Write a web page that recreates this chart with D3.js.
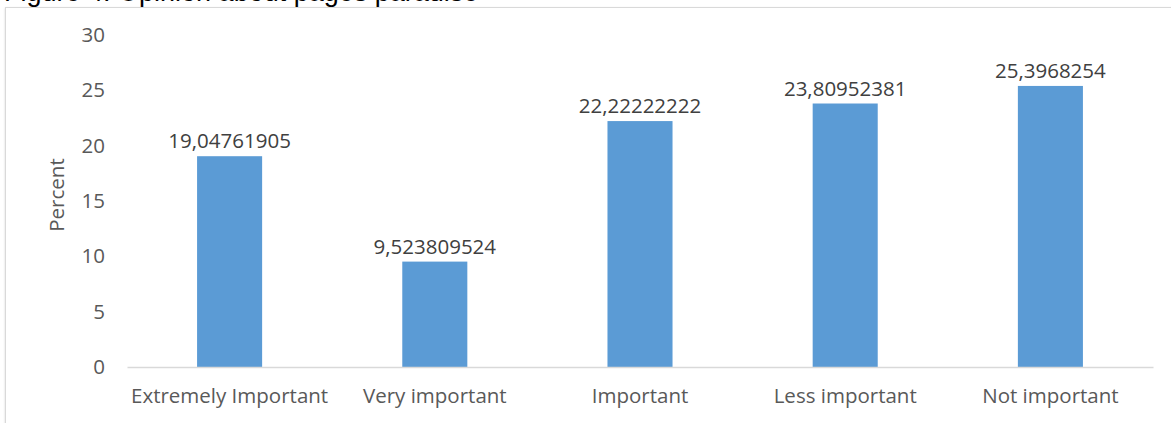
<!DOCTYPE html>
<html>
<head>
<meta charset="utf-8">
<script src="https://cdn.jsdelivr.net/npm/d3@7"></script>
<style>
  html, body { margin: 0; padding: 0; background: #fff; overflow: hidden; }
  svg { display: block; }
</style>
</head>
<body>
<svg id="chart" width="1171" height="423"></svg>
<script>
// Importance ratings (percent of respondents)
const categories = ["Extremely Important", "Very important", "Important", "Less important", "Not important"];
const values = [19.04761905, 9.523809524, 22.22222222, 23.80952381, 25.3968254];
const valueLabels = ["19,04761905", "9,523809524", "22,22222222", "23,80952381", "25,3968254"];
const yTicks = [0, 5, 10, 15, 20, 25, 30];
const caption = "Figure 4: Opinion about pages paradise";

const W = 1171, H = 423;
const margin = { left: 127, right: 18, top: 35, bottom: 56 };
const svg = d3.select("#chart");
const font = "'Open Sans', sans-serif";
const fs = 20.5;

// caption line above the chart frame (runs off the top edge)
svg.append("text")
  .attr("x", 4).attr("y", 1)
  .attr("font-family", "'Liberation Sans', Arial, sans-serif")
  .attr("font-size", 27)
  .attr("fill", "#000")
  .text(caption);

// chart frame with a soft shadow
const defs = svg.append("defs");
const f = defs.append("filter").attr("id", "sh").attr("x", "-5%").attr("y", "-5%").attr("width", "110%").attr("height", "110%");
f.append("feDropShadow").attr("dx", 0).attr("dy", 1).attr("stdDeviation", 1.2).attr("flood-color", "#000").attr("flood-opacity", 0.15);
svg.append("rect")
  .attr("x", 5.5).attr("y", 7.5).attr("width", W + 20).attr("height", H + 20)
  .attr("fill", "#fff").attr("stroke", "#d9d9d9").attr("filter", "url(#sh)");

const x = d3.scaleBand()
  .domain(categories)
  .range([margin.left, W - margin.right])
  .paddingInner(0.683)
  .paddingOuter(0.3415);

const y = d3.scaleLinear().domain([0, 30]).range([H - margin.bottom, margin.top]);

// y axis tick labels (no axis line, no ticks)
const yAxis = svg.append("g")
  .attr("transform", `translate(${margin.left},0)`)
  .call(d3.axisLeft(y).tickValues(yTicks).tickSize(0).tickPadding(22));
yAxis.select(".domain").remove();
yAxis.selectAll("text")
  .attr("font-family", font).attr("font-size", fs).attr("fill", "#595959");

// bars
svg.append("g").selectAll("rect")
  .data(values)
  .join("rect")
  .attr("x", (d, i) => x(categories[i]))
  .attr("y", d => y(d))
  .attr("width", x.bandwidth())
  .attr("height", d => y(0) - y(d))
  .attr("fill", "#5b9bd5");

// x axis
const xAxis = svg.append("g")
  .attr("transform", `translate(0,${y(0)})`)
  .call(d3.axisBottom(x).tickSize(0).tickPadding(21));
xAxis.select(".domain").attr("stroke", "#d9d9d9").attr("stroke-width", 1.5);
xAxis.selectAll("text")
  .attr("font-family", font).attr("font-size", fs).attr("fill", "#595959");

// value labels
svg.append("g").selectAll("text")
  .data(values)
  .join("text")
  .attr("x", (d, i) => x(categories[i]) + x.bandwidth() / 2)
  .attr("y", d => y(d) - 8)
  .attr("text-anchor", "middle")
  .attr("font-family", font).attr("font-size", fs).attr("fill", "#404040")
  .text((d, i) => valueLabels[i]);

// axis title
svg.append("text")
  .attr("transform", `translate(64,${(y(0) + y(30)) / 2 - 6}) rotate(-90)`)
  .attr("text-anchor", "middle")
  .attr("font-family", font).attr("font-size", fs).attr("fill", "#595959")
  .text("Percent");
</script>
</body>
</html>
